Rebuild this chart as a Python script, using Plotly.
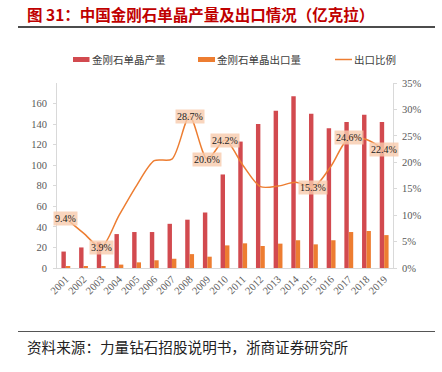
import plotly.graph_objects as go

years = [str(y) for y in range(2001, 2020)]
production = [16, 20, 25, 33, 35, 35, 43, 47, 54, 91, 123, 140, 153, 167, 150, 136, 142, 149, 142]
exports = [1.5, 1.3, 1.0, 3.3, 5.5, 7.5, 9.0, 13.5, 11.0, 22, 24, 21.4, 23.7, 27, 23, 27, 35, 36, 32]
ratio = [0.094, 0.066, 0.039, 0.099, 0.156, 0.203, 0.206, 0.287, 0.206, 0.242, 0.195, 0.154, 0.155, 0.162, 0.153, 0.193, 0.246, 0.243, 0.224]
label_years = ["2001", "2003", "2008", "2009", "2010", "2015", "2017", "2019"]
left_ticks = [0, 20, 40, 60, 80, 100, 120, 140, 160]
right_ticks = [0, 0.05, 0.10, 0.15, 0.20, 0.25, 0.30, 0.35]

RED = "#d24a4f"
ORANGE = "#ed7d31"
SERIF = "Liberation Serif, Times New Roman, serif"
CJK = "Noto Sans CJK SC, sans-serif"

W, H = 442, 372
L, R, T, B = 57, 49, 83, 104
pw, ph = W - L - R, H - T - B


def px(x):
    return (x - L) / pw


def py(y):
    return (H - B - y) / ph


fig = go.Figure()
fig.add_trace(go.Bar(x=years, y=production, name="金刚石单晶产量", marker_color=RED,
                     marker_line_width=0, yaxis="y"))
fig.add_trace(go.Bar(x=years, y=exports, name="金刚石单晶出口量", marker_color=ORANGE,
                     marker_line_width=0, yaxis="y"))
fig.add_trace(go.Scatter(x=years, y=ratio, name="出口比例", mode="lines",
                         line=dict(color=ORANGE, width=1.5, shape="spline", smoothing=0.8),
                         yaxis="y2"))

annotations = []
for i, (yr, r) in enumerate(zip(years, ratio)):
    if yr in label_years:
        annotations.append(dict(x=i, y=r, xref="x", yref="y2", text=f"{r*100:.1f}%",
                                showarrow=False, bgcolor="rgba(248,203,173,0.8)",
                                font=dict(family=SERIF, size=10, color="#222222"),
                                borderpad=1))

# title
annotations.append(dict(x=px(25), y=py(14), xref="paper", yref="paper", xanchor="left",
                        yanchor="middle", showarrow=False,
                        text="<b>图 31：中国金刚石单晶产量及出口情况（亿克拉）</b>",
                        font=dict(family=CJK, size=15.5, color="#c00000")))
# source
annotations.append(dict(x=px(25), y=py(346), xref="paper", yref="paper", xanchor="left",
                        yanchor="middle", showarrow=False,
                        text="资料来源：力量钻石招股说明书，浙商证券研究所",
                        font=dict(family=CJK, size=14.6, color="#222222")))
# legend texts
for xt, t in [(90, "金刚石单晶产量"), (215, "金刚石单晶出口量"), (352, "出口比例")]:
    annotations.append(dict(x=px(xt), y=py(59.5), xref="paper", yref="paper", xanchor="left",
                            yanchor="middle", showarrow=False, text=t,
                            font=dict(family=CJK, size=10.5, color="#404040")))

shapes = [
    dict(type="line", xref="paper", yref="paper", x0=px(18), x1=px(435), y0=py(27), y1=py(27),
         line=dict(color="#111111", width=1.6)),
    dict(type="line", xref="paper", yref="paper", x0=px(18), x1=px(435), y0=py(331.5), y1=py(331.5),
         line=dict(color="#555555", width=1.2)),
    dict(type="rect", xref="paper", yref="paper", x0=px(73), x1=px(89.5), y0=py(62), y1=py(57),
         fillcolor=RED, line_width=0),
    dict(type="rect", xref="paper", yref="paper", x0=px(198), x1=px(215), y0=py(62), y1=py(57),
         fillcolor=ORANGE, line_width=0),
    dict(type="line", xref="paper", yref="paper", x0=px(335), x1=px(352), y0=py(59.5), y1=py(59.5),
         line=dict(color=ORANGE, width=1.5)),
]

fig.update_layout(
    width=W, height=H,
    margin=dict(l=L, r=R, t=T, b=B, autoexpand=False),
    paper_bgcolor="white", plot_bgcolor="white",
    showlegend=False,
    barmode="group", bargap=0.5, bargroupgap=0,
    annotations=annotations, shapes=shapes,
    xaxis=dict(type="category", range=[-0.5, len(years) - 0.5], showline=True,
               linecolor="#d9d9d9", linewidth=1, automargin=False,
               tickangle=-45, ticks="", showgrid=False,
               tickfont=dict(family=SERIF, size=10.5, color="#595959")),
    yaxis=dict(range=[0, 180], tickvals=left_ticks, showline=True, linecolor="#d9d9d9",
               linewidth=1, ticks="outside", ticklen=3, tickcolor="#d9d9d9", showgrid=False,
               zeroline=False, automargin=False, ticklabelstandoff=4,
               tickfont=dict(family=SERIF, size=10.5, color="#595959")),
    yaxis2=dict(range=[0, 0.35], tickvals=right_ticks, tickformat=".0%", overlaying="y",
                side="right", showline=True, linecolor="#d9d9d9", linewidth=1,
                ticks="outside", ticklen=3, tickcolor="#d9d9d9", showgrid=False,
                zeroline=False, automargin=False, ticklabelstandoff=3,
                tickfont=dict(family=SERIF, size=10.5, color="#595959")),
)

fig.write_html("out.html", config={"displayModeBar": False},
               post_script="document.body.style.margin='0px';")
